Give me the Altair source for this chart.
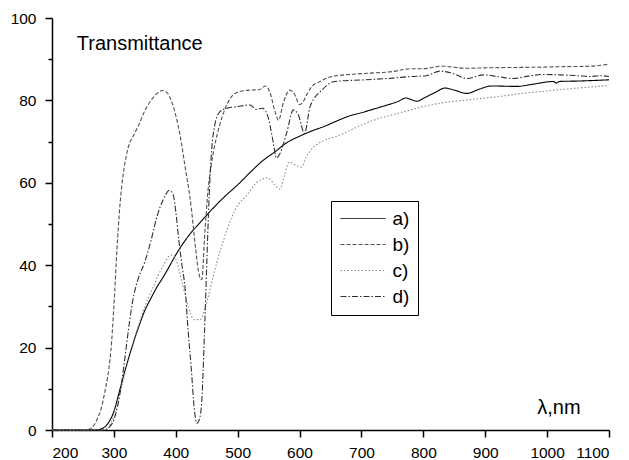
import altair as alt
import pandas as pd

# ---- data ----
a_wl = [200, 270, 280, 290, 300, 310, 320, 330, 340, 350, 360, 370, 380, 390, 400, 420, 440, 460, 480,
        500, 520, 540, 560, 580, 600, 620, 640, 660, 680, 700, 720, 740, 760, 772, 780, 790, 800, 820,
        835, 850, 870, 890, 910, 950, 980, 1010, 1015, 1020, 1050, 1100]
a_t = [0, 0, 0.3, 1.5, 4.5, 10, 15.5, 20.5, 25, 29, 32, 34.8, 37.2, 39.8, 42.5, 47, 50.5, 53.8, 56.8,
       59.5, 62.5, 65.3, 67.5, 69.8, 71.3, 72.6, 73.7, 75, 76.2, 77, 77.9, 78.8, 79.8, 80.6, 80.2, 79.8, 80.5, 82,
       83, 82.5, 81.7, 82.7, 83.5, 83.4, 84, 84.6, 84.2, 84.6, 84.7, 85]

b_wl = [200, 255, 262, 268, 274, 280, 285, 290, 295, 300, 305, 310, 315, 320, 325, 330, 340, 350, 360,
        370, 378, 385, 395, 405, 415, 425, 432, 438, 442, 447, 452, 458, 465, 475, 488, 500, 520, 535,
        545, 552, 560, 566, 574, 584, 592, 600, 604, 612, 620, 632, 652, 700, 750, 780, 800, 830, 870,
        900, 950, 1000, 1030, 1070, 1100]
b_t = [0, 0, 0.3, 1.2, 3, 5.5, 9, 13, 19, 30, 44, 55, 62, 66.5, 69.5, 71, 74, 77.5, 80,
       81.7, 82.4, 82, 79, 73, 64, 54, 44, 37.5, 36.5, 48, 58, 65, 70.5, 76, 80.5, 82, 82.5, 82.6,
       83.5, 82, 77.5, 75.2, 79.5, 82.5, 81.5, 79, 79.3, 81.5, 83.4, 84.5, 85.8, 86.5, 87, 87.7, 87.7, 88.3, 87.8,
       87.9, 88, 88.1, 88.2, 88.3, 88.8]

c_wl = [200, 282, 290, 300, 310, 320, 330, 340, 350, 360, 370, 380, 390, 395, 400, 410, 420, 430, 440,
        446, 452, 460, 466, 477, 490, 500, 515, 530, 549, 560, 568, 576, 583, 595, 603, 610, 620, 640,
        660, 700, 720, 750, 780, 800, 830, 870, 920, 960, 1000, 1050, 1100]
c_t = [0, 0, 0.5, 3.5, 9, 15, 20.5, 25.5, 30, 33.5, 37, 40, 42.3, 42.5, 41.5, 36, 30, 26.8, 26.8,
       29, 32, 37, 40.5, 46, 51.5, 54.5, 57, 60, 61.2, 59.5, 58.5, 62, 65, 64.2, 63.8, 66, 68.2, 70.3,
       71.3, 74, 75.2, 76.5, 77.7, 78.5, 79.4, 80.1, 80.9, 81.7, 82.3, 83, 83.6]

d_wl = [200, 284, 291, 300, 307, 313, 318, 325, 330, 335, 340, 350, 360, 370, 380, 390, 396, 400, 405,
        410, 415, 420, 425, 430, 434, 438, 442, 446, 450, 454, 458, 463, 470, 480, 500, 520, 530, 540,
        550, 556, 563, 568, 579, 590, 598, 608, 617, 636, 657, 706, 750, 780, 805, 827, 850, 870, 897,
        920, 945, 970, 994, 1021, 1050, 1069, 1085, 1100]
d_t = [0, 0, 0.5, 2.5, 6.5, 12, 17.8, 26, 31, 34.5, 37, 40.8, 46, 52, 56, 58.2, 57, 53, 46,
       40, 34.5, 24, 15, 5, 1.6, 2.5, 7, 22, 40, 57, 68, 74, 77, 78, 78.5, 78.9, 77.8, 78.1,
       75.5, 71, 66, 67, 72, 77.7, 76.5, 72, 78.5, 82.5, 84.6, 85, 85.4, 85.8, 86, 87.1, 86.4, 85.3, 86.2,
       85.8, 85.3, 85.9, 86.3, 86.2, 86, 85.8, 86, 85.8]

series_names = ["a)", "b)", "c)", "d)"]
series_colors = ["#000000", "#505050", "#8a8a8a", "#303030"]
series_dash = [[1, 0], [4, 2], [1.5, 2], [6, 2, 1.5, 2]]

x_tick_values = list(range(200, 1101, 50))
y_tick_values = list(range(0, 101, 10))

ann_text = ["Transmittance", "λ,nm"]
ann_x = [240, 984]
ann_y = [93.6, 5.3]

rows = []
for name, xs, ys in zip(series_names, [a_wl, b_wl, c_wl, d_wl], [a_t, b_t, c_t, d_t]):
    for xv, yv in zip(xs, ys):
        rows.append({"series": name, "wl": xv, "T": yv})
df = pd.DataFrame(rows)
ann_df = pd.DataFrame({"text": ann_text, "wl": ann_x, "T": ann_y})

FONT = "Liberation Sans"

x_scale = alt.Scale(domain=[200, 1100], nice=False, zero=False)
y_scale = alt.Scale(domain=[0, 100], nice=False)

x_axis = alt.Axis(
    values=x_tick_values, title=None, format="d",
    labelExpr="datum.value % 100 === 0 ? datum.label : ''",
    tickSize=alt.condition("datum.value % 100 === 0", alt.value(7), alt.value(4)),
    labelPadding=8,
)
y_axis = alt.Axis(
    values=y_tick_values, title=None, format="d",
    labelExpr="datum.value % 20 === 0 ? datum.label : ''",
    tickSize=alt.condition("datum.value % 20 === 0", alt.value(7), alt.value(4)),
    labelPadding=9,
)

legend = alt.Legend(title=None)

lines = alt.Chart(df).mark_line(strokeWidth=1.1, interpolate="monotone").encode(
    x=alt.X("wl:Q", scale=x_scale, axis=x_axis),
    y=alt.Y("T:Q", scale=y_scale, axis=y_axis),
    color=alt.Color("series:N", scale=alt.Scale(domain=series_names, range=series_colors), legend=legend),
    strokeDash=alt.StrokeDash("series:N", scale=alt.Scale(domain=series_names, range=series_dash), legend=legend),
)

texts = alt.Chart(ann_df).mark_text(align="left", baseline="middle", fontSize=20, font=FONT, color="black").encode(
    x=alt.X("wl:Q", scale=x_scale),
    y=alt.Y("T:Q", scale=y_scale),
    text="text:N",
)

chart = alt.layer(lines, texts).properties(
    width=557, height=412,
    padding={"left": 52, "top": 18, "right": 20, "bottom": 30},
    autosize=alt.AutoSizeParams(type="none"),
    background="white",
).configure_view(stroke=None).configure_axis(
    grid=False, domainColor="black", tickColor="black", labelColor="black",
    domainWidth=1.5, tickWidth=1.5, labelFont=FONT, labelFontSize=15.5,
).configure_legend(
    orient="none", legendX=279, legendY=183,
    strokeColor="black", fillColor="white", padding=8, rowPadding=6, cornerRadius=0,
    symbolType="M-5,0H5", symbolSize=81, symbolStrokeWidth=1, symbolOffset=14.5,
    labelOffset=20, labelFont=FONT, labelFontSize=19, labelColor="black",
)

chart.save("out.html", embed_options={"renderer": "svg", "actions": False})
